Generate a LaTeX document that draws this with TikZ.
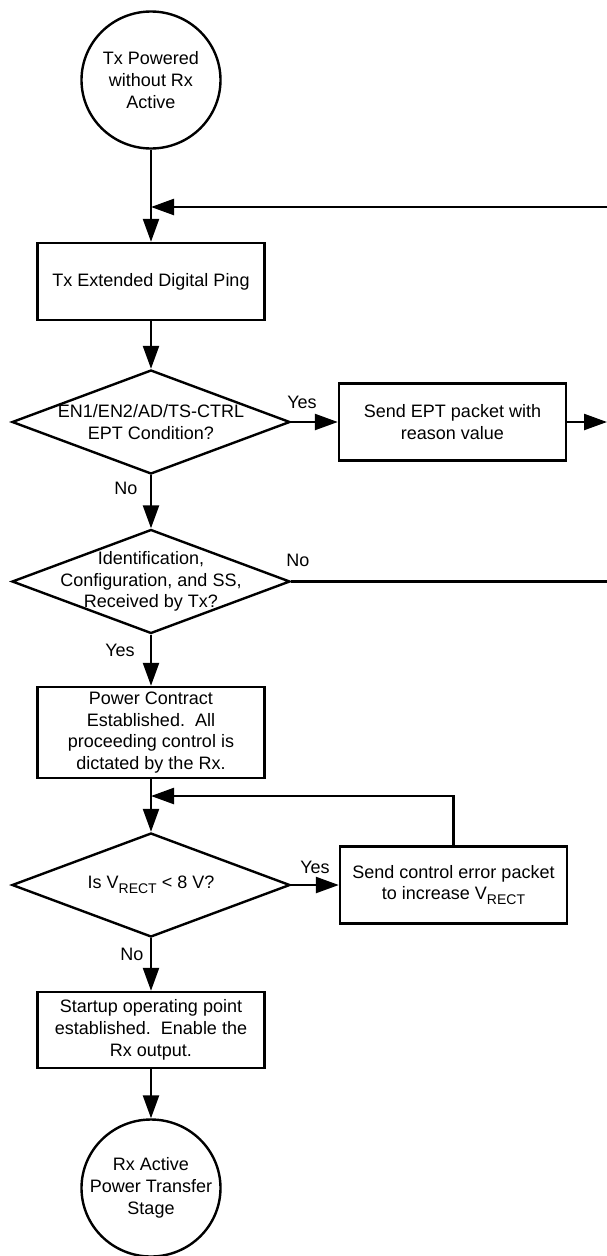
\documentclass[tikz,border=0pt]{standalone}
\usepackage{fontspec}
\setmainfont{Liberation Sans}
\usetikzlibrary{arrows.meta,positioning,calc,shapes.geometric}
\newcommand{\vrectsub}{V\raisebox{-0.28em}{\fontsize{14pt}{14pt}\selectfont RECT}}

\begin{document}
\begin{tikzpicture}[x=1pt,y=-1pt,>={Triangle[length=23pt,width=16pt]},line width=2.4pt,
  font=\fontsize{18pt}{21.7pt}\selectfont,
  term/.style={draw,ellipse,inner sep=0pt,minimum width=139pt,minimum height=137pt},
  proc/.style={draw,rectangle,align=center,inner sep=0pt,minimum width=227pt,minimum height=77pt},
  decide/.style={draw,diamond,inner sep=0pt,minimum width=278pt,minimum height=104pt},
  inside/.style={align=center,inner sep=0pt},
  answer/.style={inner sep=0pt}]

\useasboundingbox (0,0) rectangle (607,1256);

% Start and end states
\node[term] (start) at (151,80) {};
\node[inside] (starttext) at (start) {Tx Powered\\without Rx\\Active};
\node[term] (stop) at (151,1188) {};
\node[inside] (stoptext) at (stop) {Rx Active\\Power Transfer\\Stage};

% Main column
\node[proc] (ping) at (151,281.5) {Tx Extended Digital Ping};
\node[decide] (ept) at (151,422) {};
\node[inside] (epttext) at (ept) {EN1/EN2/AD/TS-CTRL\\EPT Condition?};
\node[decide] (idcfg) at (151,581.5) {};
\node[inside] (idcfgtext) at (idcfg) {Identification,\\Configuration, and SS,\\Received by Tx?};
\node[proc,minimum height=91pt] (contract) at (151,732.5)
  {Power Contract\\Established.\ \ All\\proceeding control is\\dictated by the Rx.};
\node[decide] (vrect) at (151,885) {};
\node[inside] (vrecttext) at (vrect) {Is \vrectsub{} < 8 V?};
\node[proc,minimum height=76pt] (startup) at (151,1030)
  {Startup operating point\\established.\ \ Enable the\\Rx output.};

% Side boxes
\node[proc] (eptbox) at (452.5,422) {Send EPT packet with\\reason value};
\node[proc] (errbox) at (453.5,885) {Send control error packet\\to increase \vrectsub};

% Yes / No labels
\node[answer] (yes1) at (302,402) {Yes};
\node[answer] (no1) at (126,488) {No};
\node[answer] (no2) at (298,560) {No};
\node[answer] (yes2) at (120,650) {Yes};
\node[answer] (yes3) at (315,867) {Yes};
\node[answer] (no3) at (132,954) {No};

% Loose ends at the right edge and joins on the main line
\coordinate (loopR) at (607,207);
\coordinate (loopJ) at (151,207);
\coordinate (eptR) at (607,422);
\coordinate (idR) at (607,581.5);
\coordinate (loop2) at (151,796);

% Connectors
\draw[->] (start) -- (ping);
\draw[->] (loopR) -- (loopJ);
\draw[->] (ping) -- (ept);
\draw[->] (ept) -- (eptbox);
\draw[->] (eptbox) -- (eptR);
\draw[->] (ept) -- (idcfg);
\draw (idcfg) -- (idR);
\draw[->] (idcfg) -- (contract);
\draw[->] (contract) -- (vrect);
\draw[->] (vrect) -- (errbox);
\draw[->] (errbox.north) |- (loop2);
\draw[->] (vrect) -- (startup);
\draw[->] (startup) -- (stop);

\end{tikzpicture}
\end{document}
